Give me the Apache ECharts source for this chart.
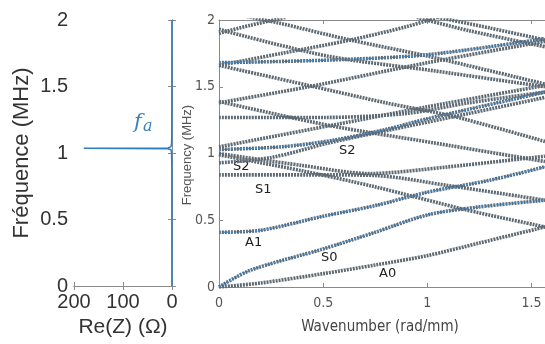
<!DOCTYPE html>
<html>
<head>
<meta charset="utf-8">
<script src="https://cdn.jsdelivr.net/npm/echarts@6/dist/echarts.min.js"></script>
<style>
  html, body { margin: 0; padding: 0; background: #fff; }
  #chart { width: 545px; height: 344px; }
</style>
</head>
<body>
<div id="chart"></div>
<script>
// impedance curve (left panel): Re(Z) in ohm against frequency in MHz
var reZ = [0.3, 0.4, 0.8, 2, 8, 180, 8, 2, 0.8, 0.4, 0.3];
var fZ  = [0, 0.9, 1.0, 1.025, 1.032, 1.035, 1.038, 1.048, 1.07, 1.15, 2];

// dispersion curves (right panel): [wavenumber rad/mm, frequency MHz]
var modeA0 = [[0, 0], [0.2, 0.03], [0.5, 0.1], [0.75, 0.165], [1.0, 0.235], [1.25, 0.33], [1.565, 0.45]];
var modeS0 = [[0, 0], [0.15, 0.125], [0.5, 0.285], [0.75, 0.41], [1.0, 0.54], [1.25, 0.6], [1.565, 0.65]];
var modeA1 = [[0, 0.41], [0.2, 0.425], [0.5, 0.53], [0.75, 0.61], [1.0, 0.71], [1.3, 0.8], [1.565, 0.9]];
var modeS1 = [[0, 0.84], [0.5, 0.84], [0.75, 0.835], [1.1, 0.76], [1.565, 0.65]];
var modeS2 = [[0, 1.03], [0.3, 1.05], [0.55, 1.1], [0.8, 1.18], [1.0, 1.26], [1.565, 1.46]];
var branchS2b = [[0, 0.93], [0.25, 0.97], [0.53, 1.08], [0.8, 1.17], [1.2, 1.3], [1.565, 1.42]];
var branchD4 = [[0, 0.99], [0.4, 0.87], [0.75, 0.75], [1.18, 0.58], [1.565, 0.45]];
var branchD5 = [[0, 1.0], [0.4, 0.91], [0.72, 0.85], [1.1, 0.9], [1.565, 0.98]];
var branchR4 = [[0, 1.05], [0.67, 1.25], [1.0, 1.35], [1.565, 1.51]];
var branchF127 = [[0, 1.27], [0.5, 1.27], [0.9, 1.3], [1.2, 1.38], [1.565, 1.46]];
var branchD3 = [[0, 1.39], [0.53, 1.21], [1.03, 1.08], [1.565, 0.94]];
var branchD2 = [[0, 1.66], [0.43, 1.51], [0.8, 1.38], [1.12, 1.28], [1.565, 1.09]];
var branchR3 = [[0, 1.38], [0.43, 1.5], [1.0, 1.68], [1.565, 1.84]];
var branchD1 = [[0, 1.93], [0.52, 1.73], [1.03, 1.62], [1.565, 1.5]];
var branchT1 = [[0.12, 2.03], [0.28, 1.98], [0.63, 1.85], [1.0, 1.73], [1.565, 1.52]];
var branchR2 = [[0, 1.66], [0.3, 1.75], [0.63, 1.85], [0.9, 1.95], [1.05, 2.02]];
var branchR1 = [[0, 1.9], [0.15, 1.96], [0.32, 2.02]];
var branchF168 = [[0, 1.68], [0.53, 1.7], [1.0, 1.74], [1.565, 1.86]];
var branchTR1 = [[0.95, 2.02], [1.2, 1.92], [1.565, 1.8]];
var branchTR2 = [[1.05, 2.02], [1.3, 1.94], [1.565, 1.85]];

var grayCurves = [modeA0, modeS0, modeA1, modeS1, branchS2b, branchD4, branchD5, branchR4,
  branchF127, branchD3, branchD2, branchR3, branchD1, branchT1, branchR2, branchR1,
  branchF168, branchTR1, branchTR2, modeS2];
var blueCurves = [modeS0, modeA1, modeS2, branchF168];

var modeLabels = [
  { text: 'S2', x: 233, y: 160 },
  { text: 'S2', x: 339, y: 144 },
  { text: 'S1', x: 255, y: 183 },
  { text: 'A1', x: 245, y: 236 },
  { text: 'S0', x: 321, y: 251 },
  { text: 'A0', x: 379, y: 267 }
];

var dom = document.getElementById('chart');
var myChart = echarts.init(dom, null, { renderer: 'canvas' });

var gray = '#5e6a73';
var frame = '#8a8a8a';
var bigFont = "'Liberation Sans', Arial, sans-serif";
var narrowFont = "'Liberation Sans Narrow', 'DejaVu Sans Condensed', sans-serif";

var series = [];
series.push({
  type: 'line', xAxisIndex: 0, yAxisIndex: 0,
  data: reZ.map(function (r, i) { return [r, fZ[i]]; }),
  showSymbol: false, smooth: false,
  lineStyle: { color: '#2a7fc4', width: 1.5 }
});
grayCurves.forEach(function (c) {
  series.push({
    type: 'line', xAxisIndex: 2, yAxisIndex: 2, data: c,
    showSymbol: false, smooth: 0.3, silent: true,
    lineStyle: { color: gray, width: 3.6, type: [2, 1] }
  });
});
blueCurves.forEach(function (c) {
  series.push({
    type: 'line', xAxisIndex: 2, yAxisIndex: 2, data: c,
    showSymbol: false, smooth: 0.3, silent: true,
    lineStyle: { color: '#3a8fd8', width: 1.4, type: [2, 2] }
  });
});

var graphics = [
  { type: 'text', x: 22, y: 153, rotation: Math.PI / 2,
    style: { text: 'Fréquence (MHz)', font: '22px ' + bigFont, fill: '#333', align: 'center', verticalAlign: 'middle' } },
  { type: 'text', x: 123, y: 327,
    style: { text: 'Re(Z) (Ω)', font: '21px ' + bigFont, fill: '#333', align: 'center', verticalAlign: 'middle' } },
  { type: 'text', x: 187, y: 155, rotation: Math.PI / 2,
    style: { text: 'Frequency (MHz)', font: '13px ' + bigFont, fill: '#555', align: 'center', verticalAlign: 'middle' } },
  { type: 'text', x: 380, y: 327,
    style: { text: 'Wavenumber (rad/mm)', font: '15px ' + narrowFont, fill: '#444', align: 'center', verticalAlign: 'middle' } },
  { type: 'text', x: 134, y: 112,
    style: { text: 'f', font: 'italic 21px "DejaVu Serif", serif', fill: '#3a7fc0' } },
  { type: 'text', x: 143, y: 119,
    style: { text: 'a', font: 'italic 16px "DejaVu Serif", serif', fill: '#3a7fc0' } }
];
modeLabels.forEach(function (l) {
  graphics.push({ type: 'text', x: l.x, y: l.y,
    style: { text: l.text, font: '13px "DejaVu Sans", sans-serif', fill: '#222' } });
});

function axisBase(extra) {
  var a = {
    type: 'value',
    axisLine: { show: true, lineStyle: { color: frame, width: 1 } },
    axisTick: { show: true, inside: true, length: 4, lineStyle: { color: frame } },
    splitLine: { show: false }
  };
  for (var k in extra) a[k] = extra[k];
  return a;
}

var option = {
  animation: false,
  grid: [
    { left: 74, top: 20, width: 98, height: 266 },
    { left: 219, top: 20, right: 0, height: 267 }
  ],
  xAxis: [
    axisBase({ gridIndex: 0, position: 'bottom', min: 0, max: 200, interval: 100, inverse: true,
      axisLabel: { fontSize: 20, color: '#333', fontFamily: bigFont, margin: 6 } }),
    axisBase({ gridIndex: 0, position: 'top', min: 0, max: 200, interval: 100, inverse: true,
      axisLabel: { show: false } }),
    axisBase({ gridIndex: 1, position: 'bottom', min: 0, max: 1.565, interval: 0.5,
      axisLabel: { fontSize: 14, color: '#555', fontFamily: narrowFont, margin: 9, showMaxLabel: false } }),
    axisBase({ gridIndex: 1, position: 'top', min: 0, max: 1.565, interval: 0.5,
      axisLabel: { show: false } })
  ],
  yAxis: [
    axisBase({ gridIndex: 0, position: 'left', min: 0, max: 2, interval: 0.5,
      axisLabel: { fontSize: 20, color: '#333', fontFamily: bigFont, margin: 6 } }),
    axisBase({ gridIndex: 0, position: 'right', min: 0, max: 2, interval: 0.5,
      axisLabel: { show: false } }),
    axisBase({ gridIndex: 1, position: 'left', min: 0, max: 2, interval: 0.5,
      axisLabel: { fontSize: 14, color: '#555', fontFamily: narrowFont, margin: 4 } })
  ],
  graphic: graphics,
  series: series
};

myChart.setOption(option);
window.addEventListener('resize', myChart.resize);
</script>
</body>
</html>
